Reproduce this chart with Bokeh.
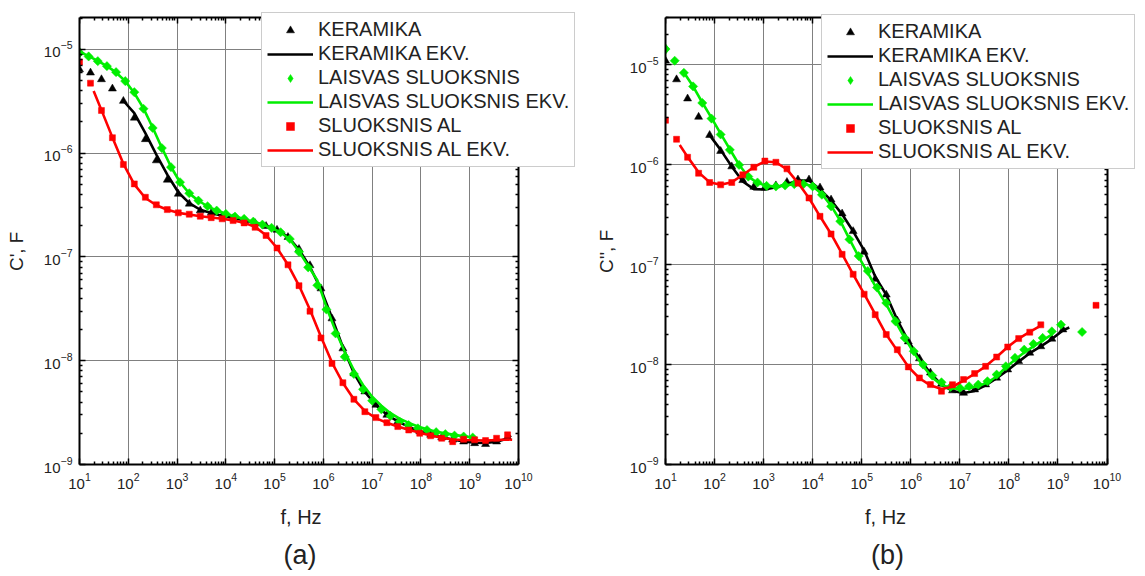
import math
from bokeh.plotting import figure
from bokeh.layouts import row
from bokeh.models import LogAxis, Legend, LegendItem, Title, Range1d, FixedTicker
from bokeh.embed import file_html
from bokeh.resources import INLINE

FONT = "Liberation Sans"
BLACK = "#000000"
GREEN = "#00ee00"
RED = "#ff0000"
NBSP = "\u00a0"

# ---------------- tick values ----------------
X_TICKS = [1e1, 1e2, 1e3, 1e4, 1e5, 1e6, 1e7, 1e8, 1e9, 1e10]
Y_TICKS = [1e-9, 1e-8, 1e-7, 1e-6, 1e-5]

# ---------------- frequencies (Hz) ----------------
F_KER = [10, 16.8, 28.2, 47.3, 79.4, 133, 224, 376, 631, 1060, 1780, 2990, 5010, 8410,
         1.41e4, 2.37e4, 3.98e4, 6.68e4, 1.12e5, 1.88e5, 3.16e5, 5.31e5, 8.91e5, 1.50e6,
         2.51e6, 4.22e6, 7.08e6, 1.19e7, 2.00e7, 3.35e7, 5.62e7, 9.44e7, 1.58e8, 2.66e8,
         4.47e8, 7.50e8, 1.26e9, 2.11e9, 3.55e9, 5.96e9]
F_LAIS = [10, 15.4, 23.7, 36.5, 56.2, 86.6, 133, 205, 316, 487, 750, 1150, 1780, 2740, 4220,
          6490, 1.00e4, 1.54e4, 2.37e4, 3.65e4, 5.62e4, 8.66e4, 1.33e5, 2.05e5, 3.16e5, 4.87e5,
          7.50e5, 1.15e6, 1.78e6, 2.74e6, 4.22e6, 6.49e6, 1.00e7, 1.54e7, 2.37e7, 3.65e7,
          5.62e7, 8.66e7, 1.33e8, 2.05e8, 3.16e8, 4.87e8, 7.50e8, 1.15e9]

# ---------------- panel (a): C' ----------------
KER_A = [6.4e-6, 5.96e-6, 5.14e-6, 4.18e-6, 3.18e-6, 2.19e-6, 1.36e-6, 8.5e-7, 5.53e-7, 4.05e-7,
         3.25e-7, 2.80e-7, 2.65e-7, 2.48e-7, 2.36e-7, 2.24e-7, 2.11e-7, 1.98e-7, 1.82e-7, 1.55e-7,
         1.19e-7, 8.3e-8, 4.96e-8, 2.55e-8, 1.31e-8, 7.55e-9, 5.04e-9, 3.75e-9, 3.0e-9, 2.59e-9,
         2.29e-9, 2.08e-9, 1.93e-9, 1.82e-9, 1.73e-9, 1.66e-9, 1.60e-9, 1.57e-9, 1.66e-9, 1.83e-9]
F_KER_A_EKV = F_KER[4:] + [7.0e9]
KER_A_EKV = [3.2e-6, 2.43e-6, 1.56e-6, 9.7e-7, 6.2e-7, 4.2e-7, 3.3e-7, 2.85e-7, 2.65e-7, 2.5e-7,
             2.38e-7, 2.26e-7, 2.13e-7, 2.0e-7, 1.83e-7, 1.56e-7, 1.18e-7, 8.0e-8, 4.9e-8, 2.6e-8,
             1.35e-8, 7.6e-9, 5.0e-9, 3.75e-9, 3.02e-9, 2.6e-9, 2.3e-9, 2.09e-9, 1.94e-9, 1.83e-9,
             1.74e-9, 1.67e-9, 1.62e-9, 1.61e-9, 1.66e-9, 1.78e-9, 1.9e-9]

LAIS_A = [9.29e-6, 8.55e-6, 7.71e-6, 6.90e-6, 6.04e-6, 4.95e-6, 3.87e-6, 2.68e-6, 1.75e-6, 1.12e-6,
          7.33e-7, 5.25e-7, 4.11e-7, 3.49e-7, 3.08e-7, 2.80e-7, 2.60e-7, 2.45e-7, 2.33e-7, 2.19e-7,
          2.05e-7, 1.91e-7, 1.73e-7, 1.49e-7, 1.12e-7, 7.94e-8, 5.34e-8, 3.12e-8, 1.83e-8, 1.09e-8,
          7.45e-9, 5.30e-9, 4.12e-9, 3.40e-9, 2.94e-9, 2.59e-9, 2.40e-9, 2.23e-9, 2.15e-9, 2.05e-9,
          1.96e-9, 1.90e-9, 1.86e-9, 1.82e-9]
F_LAIS_A_EKV = F_LAIS[:]
LAIS_A_EKV = [9.5e-6, 8.6e-6, 7.75e-6, 6.9e-6, 6.0e-6, 4.95e-6, 3.8e-6, 2.7e-6, 1.77e-6, 1.13e-6,
              7.4e-7, 5.25e-7, 4.1e-7, 3.48e-7, 3.08e-7, 2.8e-7, 2.6e-7, 2.45e-7, 2.32e-7, 2.19e-7,
              2.05e-7, 1.9e-7, 1.72e-7, 1.48e-7, 1.13e-7, 8.2e-8, 5.97e-8, 3.3e-8, 1.93e-8, 1.22e-8,
              8.1e-9, 5.83e-9, 4.5e-9, 3.69e-9, 3.12e-9, 2.77e-9, 2.52e-9, 2.32e-9, 2.19e-9, 2.07e-9,
              2.0e-9, 1.93e-9, 1.87e-9, 1.83e-9]

AL_A = [7.55e-6, 4.73e-6, 2.58e-6, 1.41e-6, 7.78e-7, 5.06e-7, 3.76e-7, 3.18e-7, 2.86e-7, 2.66e-7,
        2.58e-7, 2.47e-7, 2.39e-7, 2.33e-7, 2.24e-7, 2.13e-7, 1.93e-7, 1.61e-7, 1.22e-7, 8.4e-8,
        5.29e-8, 3.0e-8, 1.66e-8, 9.42e-9, 6.14e-9, 4.25e-9, 3.23e-9, 2.83e-9, 2.53e-9, 2.32e-9,
        2.15e-9, 2.0e-9, 1.89e-9, 1.79e-9, 1.66e-9, 1.75e-9, 1.73e-9, 1.70e-9, 1.79e-9, 1.93e-9]
F_AL_A_EKV = [19.5] + F_KER[2:] + [7.4e9]
AL_A_EKV = [3.98e-6, 2.6e-6, 1.42e-6, 7.9e-7, 5.0e-7, 3.7e-7, 3.15e-7, 2.85e-7, 2.66e-7, 2.57e-7,
            2.47e-7, 2.4e-7, 2.33e-7, 2.25e-7, 2.14e-7, 1.95e-7, 1.62e-7, 1.22e-7, 8.4e-8, 5.3e-8,
            3.1e-8, 1.7e-8, 9.6e-9, 6.1e-9, 4.25e-9, 3.28e-9, 2.8e-9, 2.52e-9, 2.32e-9, 2.16e-9,
            2.02e-9, 1.9e-9, 1.81e-9, 1.74e-9, 1.72e-9, 1.71e-9, 1.70e-9, 1.72e-9, 1.74e-9, 1.73e-9]

# ---------------- panel (b): C'' ----------------
F_KER_B = F_KER[:37]
KER_B = [1.1e-5, 7.14e-6, 4.59e-6, 3.01e-6, 1.98e-6, 1.37e-6, 9.6e-7, 7.0e-7, 6.0e-7, 5.9e-7,
         6.2e-7, 6.7e-7, 7.1e-7, 7.1e-7, 5.9e-7, 4.47e-7, 3.24e-7, 2.16e-7, 1.34e-7, 7.2e-8,
         5.0e-8, 2.75e-8, 1.7e-8, 1.15e-8, 8.3e-9, 6.4e-9, 5.5e-9, 5.2e-9, 5.62e-9, 6.31e-9,
         7.36e-9, 8.91e-9, 1.08e-8, 1.31e-8, 1.52e-8, 1.81e-8, 2.24e-8]
F_KER_B_EKV = F_KER[4:37] + [1.7e9]
KER_B_EKV = [1.98e-6, 1.41e-6, 9.6e-7, 6.8e-7, 5.7e-7, 5.66e-7, 5.97e-7, 6.4e-7, 6.95e-7, 6.95e-7,
             5.7e-7, 4.4e-7, 3.2e-7, 2.16e-7, 1.39e-7, 7.6e-8, 5.0e-8, 2.8e-8, 1.72e-8, 1.15e-8,
             8.2e-9, 6.3e-9, 5.45e-9, 5.2e-9, 5.45e-9, 6.2e-9, 7.3e-9, 8.8e-9, 1.07e-8, 1.3e-8,
             1.52e-8, 1.8e-8, 2.2e-8, 2.35e-8]

F_LAIS_B = F_LAIS + [3.1e9]
LAIS_B = [1.44e-5, 1.10e-5, 8.32e-6, 6.09e-6, 4.16e-6, 2.90e-6, 2.01e-6, 1.41e-6, 9.96e-7, 7.62e-7,
          6.65e-7, 6.15e-7, 6.07e-7, 6.21e-7, 6.40e-7, 6.40e-7, 6.07e-7, 5.01e-7, 3.84e-7, 2.72e-7,
          1.79e-7, 1.22e-7, 8.65e-8, 5.90e-8, 4.14e-8, 2.71e-8, 1.85e-8, 1.36e-8, 1.0e-8, 7.76e-9,
          6.65e-9, 5.98e-9, 5.84e-9, 6.07e-9, 6.31e-9, 6.81e-9, 7.94e-9, 9.62e-9, 1.17e-8, 1.41e-8,
          1.61e-8, 1.85e-8, 2.15e-8, 2.51e-8, 2.12e-8]
F_LAIS_B_EKV = F_LAIS[2:43]
LAIS_B_EKV = [8.4e-6, 6.1e-6, 4.2e-6, 2.95e-6, 2.05e-6, 1.43e-6, 1.0e-6, 7.6e-7, 6.6e-7, 6.15e-7,
              6.05e-7, 6.2e-7, 6.4e-7, 6.45e-7, 6.1e-7, 5.1e-7, 3.9e-7, 2.75e-7, 1.8e-7, 1.2e-7,
              8.3e-8, 5.7e-8, 4.0e-8, 2.7e-8, 1.85e-8, 1.32e-8, 9.7e-9, 7.4e-9, 6.3e-9, 5.8e-9,
              5.7e-9, 5.8e-9, 6.1e-9, 6.6e-9, 7.6e-9, 9.4e-9, 1.12e-8, 1.32e-8, 1.52e-8, 1.75e-8,
              2.0e-8]

F_AL_B = F_KER[:35] + [5.96e9]
AL_B = [2.79e-6, 1.80e-6, 1.19e-6, 8.23e-7, 6.65e-7, 6.30e-7, 6.65e-7, 7.93e-7, 9.45e-7, 1.09e-6,
        1.06e-6, 9.1e-7, 6.55e-7, 4.65e-7, 3.05e-7, 2.03e-7, 1.27e-7, 8.02e-8, 5.07e-8, 3.16e-8,
        2.0e-8, 1.41e-8, 9.48e-9, 7.36e-9, 6.31e-9, 5.41e-9, 6.3e-9, 7.08e-9, 8.13e-9, 9.6e-9,
        1.19e-8, 1.5e-8, 1.82e-8, 2.11e-8, 2.5e-8, 3.92e-8]
F_AL_B_EKV = [19.5] + F_KER[2:35] + [4.8e8]
AL_B_EKV = [1.58e-6, 1.2e-6, 8.4e-7, 6.7e-7, 6.3e-7, 6.7e-7, 7.9e-7, 9.5e-7, 1.08e-6, 1.06e-6,
            9.0e-7, 6.6e-7, 4.65e-7, 3.05e-7, 2.03e-7, 1.28e-7, 8.0e-8, 5.1e-8, 3.2e-8, 2.0e-8,
            1.38e-8, 9.5e-9, 7.3e-9, 6.2e-9, 5.7e-9, 6.0e-9, 6.9e-9, 8.1e-9, 9.6e-9, 1.19e-8,
            1.5e-8, 1.82e-8, 2.12e-8, 2.45e-8, 2.6e-8]

LABELS = ["KERAMIKA", "KERAMIKA EKV.", "LAISVAS SLUOKSNIS", "LAISVAS SLUOKSNIS EKV.",
          "SLUOKSNIS AL", "SLUOKSNIS AL EKV."]

X_MINOR = [m * d for d in X_TICKS[:-1] for m in range(2, 10)]
Y_MINOR = [m * d for d in Y_TICKS for m in range(2, 10)]


def style_axis(ax, labels=True, standoff=7, label_standoff=14):
    ax.axis_line_width = 2
    ax.axis_line_color = "black"
    ax.major_tick_in = 6
    ax.major_tick_out = 0
    ax.minor_tick_in = 3
    ax.minor_tick_out = 0
    ax.major_tick_line_width = 1.5
    ax.minor_tick_line_width = 1.5
    ax.major_label_text_font = FONT
    if labels:
        ax.major_label_text_font_size = "15px"
        ax.major_label_text_color = "#222222"
        ax.major_label_standoff = standoff
    else:
        ax.major_label_text_font_size = "1px"
        ax.major_label_text_alpha = 0
        ax.major_label_standoff = 0
    ax.axis_label_text_font = FONT
    ax.axis_label_text_font_size = "19px"
    ax.axis_label_text_font_style = "normal"
    ax.axis_label_text_color = "#222222"
    ax.axis_label_standoff = label_standoff


def panel(width, bl, br, frame_w, dec_px, yvis_top, ylabel, letter, xl_off, title_off, series,
          leg_loc, tstand, lstand):
    frame_h = 576 - 6 - 112
    x_end = 10 ** (1 + frame_w / dec_px)
    vis_dec = math.log10(yvis_top) + 9
    y_px = (464 - 17) / vis_dec
    y_end = 10 ** (-9 + frame_h / y_px)
    p = figure(width=width, height=576, frame_width=frame_w, frame_height=frame_h,
               x_axis_type="log", y_axis_type="log",
               x_range=Range1d(10, x_end), y_range=Range1d(1e-9, y_end),
               output_backend="svg", toolbar_location=None,
               min_border_left=bl, min_border_right=br, min_border_top=6,
               min_border_bottom=112)
    p.outline_line_color = None
    p.background_fill_color = "white"
    p.border_fill_color = "white"

    xt = FixedTicker(ticks=X_TICKS, minor_ticks=X_MINOR)
    yt = FixedTicker(ticks=Y_TICKS, minor_ticks=Y_MINOR)
    xb = (X_TICKS[0], X_TICKS[-1])
    yb = (Y_TICKS[0], yvis_top)

    p.yaxis.axis_label = ylabel + NBSP * 6
    style_axis(p.xaxis[0], True, 8, 16)
    style_axis(p.yaxis[0], True, tstand, lstand)
    p.xaxis[0].ticker = xt
    p.yaxis[0].ticker = yt
    p.xaxis[0].bounds = xb
    p.yaxis[0].bounds = yb
    top = LogAxis(ticker=xt, bounds=xb, fixed_location=yvis_top)
    right = LogAxis(ticker=yt, bounds=yb, fixed_location=X_TICKS[-1])
    style_axis(top, False)
    style_axis(right, False)
    p.add_layout(top, "above")
    p.add_layout(right, "right")

    gx, gy = p.xgrid[0], p.ygrid[0]
    gx.ticker = xt
    gy.ticker = yt
    gx.bounds = xb
    gy.bounds = yb
    for g in (gx, gy):
        g.grid_line_color = "#808080"
        g.grid_line_width = 1
    try:
        gx.cross_bounds = yb
        gy.cross_bounds = xb
    except Exception:
        gx.visible = False
        gy.visible = False
        p.segment(x0=X_TICKS[1:-1], x1=X_TICKS[1:-1], y0=[yb[0]] * 8, y1=[yb[1]] * 8,
                  line_color="#808080", line_width=1)
        p.segment(x0=[xb[0]] * 3, x1=[xb[1]] * 3, y0=Y_TICKS[1:-1], y1=Y_TICKS[1:-1],
                  line_color="#808080", line_width=1)

    items = []
    for (fm, vm, fl, vl, color, marker, msize, ang, leg_marker, leg_size), (lab_m, lab_l) in zip(
            series, [(LABELS[0], LABELS[1]), (LABELS[2], LABELS[3]), (LABELS[4], LABELS[5])]):
        rl = p.line(fl, vl, line_color=color, line_width=2.6)
        rm = p.scatter(fm, vm, marker=marker, size=msize, angle=ang, fill_color=color,
                       line_color=color, line_width=0.5)
        if leg_marker is not None:
            # legend swatch drawn from the first measured point of the same series
            rleg = p.scatter(fm[:1], vm[:1], marker=leg_marker, size=leg_size,
                             fill_color=color, line_color=color, line_width=0.5)
        else:
            rleg = rm
        items.append(LegendItem(label=lab_m, renderers=[rleg]))
        items.append(LegendItem(label=lab_l, renderers=[rl]))

    leg = Legend(items=items, location=leg_loc, glyph_width=46, glyph_height=20,
                 label_height=20, spacing=1, padding=5, margin=0, label_standoff=5,
                 label_text_font=FONT, label_text_font_size="20px",
                 label_text_color="#222222",
                 border_line_color="#9a9a9a", border_line_width=1,
                 background_fill_color="white", background_fill_alpha=1)
    p.add_layout(leg, "center")
    p.add_layout(Title(text="f, Hz", align="left", offset=xl_off, text_font=FONT,
                       text_font_size="20px", text_font_style="normal",
                       text_color="#222222", standoff=24), "below")
    p.add_layout(Title(text=letter, align="left", offset=title_off, text_font=FONT,
                       text_font_size="27px", text_font_style="normal",
                       vertical_align="top", text_color="#222222", standoff=0), "below")
    return p


series_a = [
    (F_KER, KER_A, F_KER_A_EKV, KER_A_EKV, BLACK, "triangle", 8, 0, None, 0),
    (F_LAIS, LAIS_A, F_LAIS_A_EKV, LAIS_A_EKV, GREEN, "square", 6.5, math.pi / 4, "diamond", 11),
    (F_KER, AL_A, F_AL_A_EKV, AL_A_EKV, RED, "square", 6, 0, None, 0),
]
series_b = [
    (F_KER_B, KER_B, F_KER_B_EKV, KER_B_EKV, BLACK, "triangle", 8, 0, None, 0),
    (F_LAIS_B, LAIS_B, F_LAIS_B_EKV, LAIS_B_EKV, GREEN, "square", 6.5, math.pi / 4, "diamond", 11),
    (F_AL_B, AL_B, F_AL_B_EKV, AL_B_EKV, RED, "square", 6, 0, None, 0),
]

pa = panel(590, 79, 5, 506, 48.78, 2.03e-5, "C', F", "(a)", 201, 204, series_a,
           (182, 297), 7, 14)
pb = panel(555, 75, 4, 476, 49.06, 2.98e-5, "C'', F", "(b)", 199.5, 205.5, series_b,
           (156, 295), 7, 10)

layout = row(pa, pb)
open("out.html", "w").write(file_html(layout, INLINE))
